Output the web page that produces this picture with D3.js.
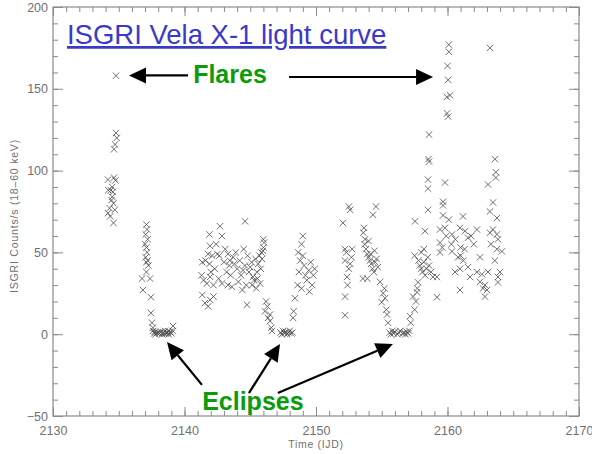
<!DOCTYPE html>
<html>
<head>
<meta charset="utf-8">
<script src="https://cdn.jsdelivr.net/npm/d3@7"></script>
<style>
  html, body { margin: 0; padding: 0; background: #fff; }
  svg { display: block; font-family: "Liberation Sans", Arial, sans-serif; }
</style>
</head>
<body>
<svg id="chart" width="592" height="454"></svg>
<script>
// light curve points, [time IJD, counts/s], grouped by orbit phase
const flare1 = [[2134.79, 158], [2134.79, 123], [2134.85, 120], [2134.72, 116], [2134.64, 113],
  [2134.18, 94.5], [2134.64, 95.7], [2134.75, 94], [2134.2, 88], [2134.4, 88], [2134.55, 87],
  [2134.5, 84], [2134.45, 82], [2134.6, 80], [2134.3, 77], [2134.18, 74], [2134.35, 72],
  [2134.6, 68], [2134.7, 76], [2134.5, 90]]
const decline1 = [[2137.1, 67], [2137.15, 64], [2137.05, 61], [2137.2, 58], [2137.0, 55],
  [2137.1, 53], [2137.15, 50], [2137.05, 47], [2137.2, 45], [2137.1, 44], [2136.77, 34],
  [2137.38, 34], [2136.84, 27], [2137.45, 22.6], [2137.45, 13], [2137.53, 7], [2137.6, 4],
  [2137.1, 38], [2137.25, 42]]
const eclipse1 = [[2137.6, 2], [2137.7, 0.5], [2137.75, 1.5], [2137.8, 0], [2138.0, 1],
  [2138.1, 0.5], [2138.2, 1.5], [2138.3, 0], [2138.4, 1], [2138.5, 2], [2138.6, 0.5],
  [2138.7, 1], [2138.8, 0], [2138.9, 1.5], [2139.0, 0.5], [2139.1, 2], [2139.13, 5],
  [2137.9, 0.8], [2138.45, 0.3], [2138.75, 1.8]]
const active1 = [[2142.7, 66], [2144.6, 69], [2141.9, 61], [2142.85, 60], [2141.94, 54],
  [2141.8, 49], [2142.1, 48], [2142.5, 49], [2142.65, 48], [2144.5, 52], [2145.97, 51],
  [2146.0, 53], [2141.35, 44], [2141.6, 45], [2141.9, 43], [2143.0, 44], [2143.4, 42],
  [2143.8, 43], [2144.2, 45], [2144.6, 42], [2145.1, 44], [2145.6, 43], [2145.9, 46],
  [2141.3, 36], [2141.45, 33], [2141.7, 31], [2141.95, 35], [2142.2, 30], [2142.6, 34],
  [2142.85, 31], [2143.3, 30], [2143.6, 29], [2144.1, 32], [2144.4, 27], [2144.7, 30],
  [2145.2, 35], [2145.5, 38], [2145.8, 40], [2141.35, 24], [2141.55, 19], [2141.95, 21],
  [2141.8, 17], [2142.2, 23], [2144.75, 18], [2143.2, 38], [2143.5, 36], [2143.7, 47],
  [2144.0, 40], [2144.3, 36], [2144.9, 38], [2145.0, 41], [2145.3, 33], [2145.4, 46],
  [2145.7, 48], [2146.05, 56], [2146.0, 58], [2145.85, 50], [2142.3, 40], [2142.4, 55],
  [2142.0, 38], [2143.9, 50], [2144.8, 48], [2145.15, 30], [2145.45, 28], [2143.1, 52],
  [2143.3, 49], [2143.45, 45], [2144.45, 39], [2145.55, 34], [2145.75, 31]]
const decline2 = [[2146.12, 14], [2146.35, 10], [2146.5, 12], [2146.5, 8], [2146.65, 2],
  [2146.6, 4], [2146.3, 17], [2146.2, 20]]
const eclipse2 = [[2147.3, 1], [2147.4, 0], [2147.5, 2], [2147.6, 0.5], [2147.7, 1.5],
  [2147.8, 0], [2147.9, 1], [2148.0, 2], [2148.1, 0.5], [2148.2, 1]]
const rise2 = [[2148.3, 14], [2148.25, 10], [2148.4, 22], [2148.6, 30], [2148.7, 38],
  [2148.8, 45], [2148.65, 50], [2148.9, 55], [2149.0, 48], [2149.1, 42], [2149.2, 36],
  [2149.3, 33], [2149.45, 39], [2149.6, 44], [2149.7, 30], [2149.8, 36], [2149.9, 40],
  [2149.5, 26], [2149.0, 60], [2148.9, 28]]
const active2 = [[2152.05, 68], [2152.59, 76], [2152.5, 78], [2152.21, 52], [2152.3, 50],
  [2152.2, 45], [2152.36, 35], [2152.21, 23], [2152.21, 11.6], [2152.4, 30], [2152.5, 40],
  [2152.6, 43], [2152.7, 47], [2152.75, 52], [2153.73, 58], [2154.56, 78], [2154.33, 73],
  [2153.6, 62], [2153.7, 55], [2153.8, 52], [2153.9, 49], [2154.0, 47], [2154.1, 45],
  [2154.2, 43], [2154.3, 40], [2154.5, 44], [2154.6, 46], [2154.4, 38], [2154.7, 41],
  [2153.57, 34], [2153.9, 34], [2154.87, 32], [2153.65, 65], [2154.15, 49], [2154.45, 51],
  [2154.0, 57]]
const decline3 = [[2155.1, 25], [2155.0, 19.5], [2155.25, 22], [2155.4, 12], [2155.48, 7],
  [2155.35, 15], [2155.2, 28]]
const eclipse3 = [[2155.6, 1], [2155.7, 0], [2155.8, 2], [2155.9, 0.5], [2156.0, 1.5],
  [2156.2, 0], [2156.3, 1], [2156.4, 2], [2156.6, 0.5], [2156.7, 1], [2156.8, 0],
  [2156.9, 1.5], [2157.0, 0.5], [2157.15, 11], [2157.2, 7], [2157.1, 2]]
const rise3 = [[2157.38, 23], [2157.68, 25.6], [2157.76, 31.7], [2157.6, 20], [2157.5, 15],
  [2157.7, 28], [2157.5, 48], [2157.8, 45], [2157.9, 42], [2158.0, 40], [2158.1, 38],
  [2158.2, 44], [2158.3, 36], [2158.4, 40], [2158.5, 47], [2158.6, 42], [2158.75, 38],
  [2158.9, 35], [2158.0, 50], [2158.2, 52], [2159.2, 35], [2159.2, 22.6], [2157.53, 69],
  [2158.29, 63], [2158.52, 76], [2158.52, 94.5], [2158.52, 89], [2158.6, 105.5],
  [2158.55, 107], [2158.6, 122]]
const flare2 = [[2160.1, 177], [2160.1, 172.6], [2160.0, 164], [2160.05, 155.5],
  [2159.95, 145], [2160.2, 146], [2159.97, 135], [2160.05, 133]]
const active3 = [[2159.81, 92.7], [2159.66, 81], [2159.66, 78.7], [2159.66, 72.6],
  [2161.18, 72], [2159.43, 64], [2159.81, 65], [2160.34, 61], [2160.95, 65], [2161.33, 63],
  [2161.56, 59], [2162.24, 64], [2159.43, 56], [2159.6, 53], [2159.43, 50], [2160.3, 55],
  [2160.34, 50.6], [2161.0, 53], [2161.3, 52], [2160.8, 47], [2161.0, 48], [2162.47, 47],
  [2160.57, 38], [2160.95, 40], [2161.56, 41], [2161.71, 35], [2160.95, 27], [2162.24, 38],
  [2162.62, 36.6], [2163.08, 38], [2162.47, 32], [2162.85, 30], [2163.0, 27], [2162.85, 23],
  [2162.7, 28], [2161.2, 45], [2160.6, 58], [2161.8, 60], [2162.0, 55], [2159.9, 60],
  [2160.1, 70], [2163.61, 107], [2163.68, 99], [2163.68, 95.7], [2163.08, 91.5],
  [2163.46, 80.5], [2163.23, 75], [2163.76, 71], [2163.46, 64], [2163.23, 62], [2163.76, 61],
  [2163.84, 58], [2163.76, 52], [2164.14, 50.6], [2163.99, 38], [2163.84, 35],
  [2163.84, 31.7], [2163.23, 175], [2163.6, 45], [2163.3, 55]]

const xMajorTicks = [2130, 2140, 2150, 2160, 2170]
const yMajorTicks = [-50, 0, 50, 100, 150, 200]

const svg = d3.select('#chart')
const plotLeft = 53
const plotRight = 579
const plotTop = 7
const plotBottom = 416
const axisColor = '#8a8a8a'
const labelColor = '#707070'

const x = d3.scaleLinear().domain([2130, 2170]).range([plotLeft, plotRight])
const y = d3.scaleLinear().domain([-50, 200]).range([plotBottom, plotTop])

// axes: major + minor ticks on all four sides, pointing inward
function drawAxis (axisFn, scale, tickVals, size, transform, labels) {
  const g = svg.append('g')
    .attr('transform', transform)
    .call(axisFn(scale).tickValues(tickVals).tickSize(size).tickSizeOuter(0)
      .tickFormat(labels ? d3.format('d') : ''))
  g.select('.domain').remove()
  g.selectAll('.tick line').attr('stroke', axisColor)
  return g
}

const xMinor = d3.range(2130, 2171, 1)
const yMinor = d3.range(-50, 201, 10)

const xb = drawAxis(d3.axisBottom, x, xMajorTicks, -9, `translate(0,${plotBottom})`, true)
drawAxis(d3.axisBottom, x, xMinor, -5, `translate(0,${plotBottom})`, false)
drawAxis(d3.axisTop, x, xMajorTicks, -9, `translate(0,${plotTop})`, false)
drawAxis(d3.axisTop, x, xMinor, -5, `translate(0,${plotTop})`, false)
const yl = drawAxis(d3.axisLeft, y, yMajorTicks, -10, `translate(${plotLeft},0)`, true)
drawAxis(d3.axisLeft, y, yMinor, -5, `translate(${plotLeft},0)`, false)
drawAxis(d3.axisRight, y, yMajorTicks, -10, `translate(${plotRight},0)`, false)
drawAxis(d3.axisRight, y, yMinor, -5, `translate(${plotRight},0)`, false)

xb.selectAll('.tick text')
  .attr('y', 8).attr('dy', '0.9em')
  .style('font-size', '12.5px').attr('fill', labelColor)
yl.selectAll('.tick text')
  .attr('x', -5).text(d => d < 0 ? '\u2212' + Math.abs(d) : d)
  .style('font-size', '12.5px').attr('fill', labelColor)

svg.append('rect')
  .attr('x', plotLeft).attr('y', plotTop)
  .attr('width', plotRight - plotLeft).attr('height', plotBottom - plotTop)
  .attr('fill', 'none').attr('stroke', axisColor).attr('stroke-width', 1.2)

// axis titles
svg.append('text')
  .attr('x', (plotLeft + plotRight) / 2).attr('y', 448)
  .attr('text-anchor', 'middle')
  .style('font-size', '10.5px').attr('fill', labelColor)
  .attr('letter-spacing', '0.7')
  .text('Time (IJD)')

svg.append('text')
  .attr('transform', 'translate(18,216) rotate(-90)')
  .attr('text-anchor', 'middle')
  .style('font-size', '10.5px').attr('fill', labelColor)
  .attr('letter-spacing', '0.8')
  .text('ISGRI Counts/s (18\u201360 keV)')

// data points as small crosses
const allPoints = [].concat(flare1, decline1, eclipse1, active1, decline2, eclipse2, rise2,
  active2, decline3, eclipse3, rise3, flare2, active3)

svg.append('g')
  .selectAll('path')
  .data(allPoints)
  .join('path')
  .attr('transform', d => `translate(${x(d[0])},${y(d[1])})`)
  .attr('d', 'M-3.2,-3.2L3.2,3.2M-3.2,3.2L3.2,-3.2')
  .attr('stroke', '#4a4a4a')
  .attr('stroke-width', 0.8)
  .attr('fill', 'none')

// annotations
svg.append('text')
  .attr('x', x(2131.06)).attr('y', y(177.4))
  .style('font-size', '27.5px').attr('fill', '#3a3ac8')
  .attr('text-decoration', 'underline')
  .text('ISGRI Vela X-1 light curve')

svg.append('text')
  .attr('x', x(2143.46)).attr('y', y(153.5))
  .attr('text-anchor', 'middle')
  .style('font-size', '25px').style('font-weight', 'bold').attr('fill', '#0b9b0b')
  .text('Flares')

svg.append('text')
  .attr('x', x(2145.2)).attr('y', y(-46.3))
  .attr('text-anchor', 'middle')
  .style('font-size', '25px').style('font-weight', 'bold').attr('fill', '#0b9b0b')
  .text('Eclipses')

const arrows = [
  { from: [2140.27, 158.2], to: [2135.78, 158.2] },
  { from: [2147.95, 157.2], to: [2158.9, 157.2] },
  { from: [2141.33, -31], to: [2138.67, -4.8] },
  { from: [2144.9, -36], to: [2147.26, -6] },
  { from: [2147.1, -36], to: [2155.85, -6] }
]

arrows.forEach(a => {
  const x0 = x(a.from[0])
  const y0 = y(a.from[1])
  const x1 = x(a.to[0])
  const y1 = y(a.to[1])
  const ang = Math.atan2(y1 - y0, x1 - x0)
  const headLen = 17
  const headW = 8
  const bx = x1 - headLen * Math.cos(ang)
  const by = y1 - headLen * Math.sin(ang)
  svg.append('line')
    .attr('x1', x0).attr('y1', y0).attr('x2', bx).attr('y2', by)
    .attr('stroke', '#000').attr('stroke-width', 2.2)
  const px = -Math.sin(ang) * headW
  const py = Math.cos(ang) * headW
  svg.append('path')
    .attr('d', `M${x1},${y1}L${bx + px},${by + py}L${bx - px},${by - py}Z`)
    .attr('fill', '#000')
})
</script>
</body>
</html>
